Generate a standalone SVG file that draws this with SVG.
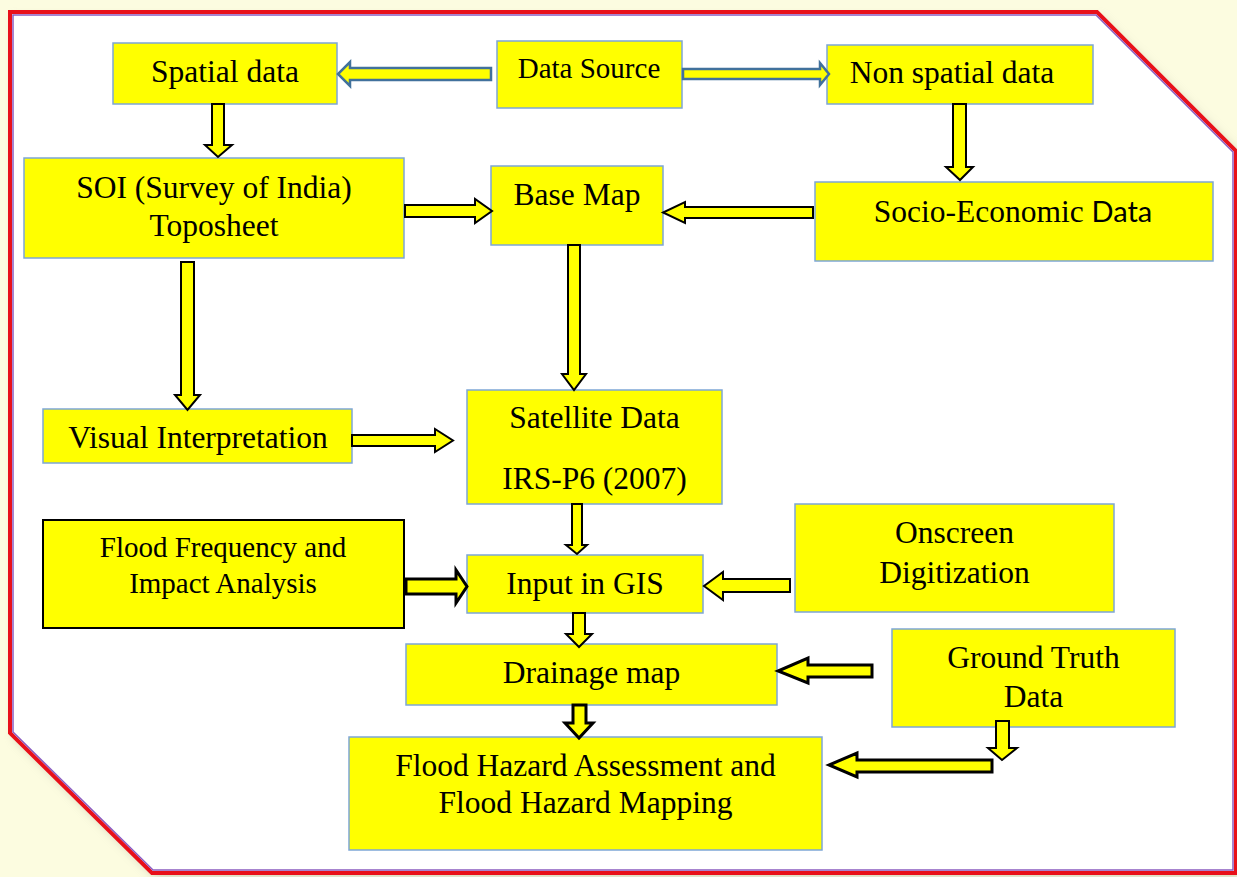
<svg xmlns="http://www.w3.org/2000/svg" width="1237" height="877" viewBox="0 0 1237 877">
<defs>
<style>
.box{fill:#ffff00;stroke:#7ea6d6;stroke-width:1.5}
.boxk{fill:#ffff00;stroke:#000;stroke-width:2}
.t{font-family:"Liberation Serif","Times New Roman",serif;font-size:31.5px;fill:#000;text-anchor:middle}
.ts{font-size:29px}
.ar{fill:#ffff00;stroke:#000;stroke-width:2;stroke-linejoin:miter}
.arb{fill:#ffff00;stroke:#000;stroke-width:3;stroke-linejoin:miter}
.arblue{fill:#ffff00;stroke:#41719c;stroke-width:2.5;stroke-linejoin:miter}
</style>
<radialGradient id="topglow" cx="0.5" cy="0" r="0.5">
<stop offset="0" stop-color="#d8f4f0"/>
<stop offset="1" stop-color="#fcfce0" stop-opacity="0"/>
</radialGradient>
<filter id="sh" x="-5%" y="-5%" width="110%" height="110%">
<feGaussianBlur stdDeviation="5"/>
</filter>
</defs>
<rect x="0" y="0" width="1237" height="877" fill="#fcfce0"/>
<ellipse cx="650" cy="0" rx="300" ry="14" fill="url(#topglow)"/>
<g id="frame">
<polygon points="14,17 1101,17 1241,155 1241,878 156,878 14,738" fill="#b8b8a0" opacity="0.6" filter="url(#sh)"/>
<polygon points="10,12 1097,12 1236,151 1236,873 152,873 10,733" fill="#ffffff" stroke="#e8101a" stroke-width="4"/>
<polygon points="13,15 1096,15 1233,152 1233,870 153,870 13,732" fill="none" stroke="#8a5cc0" stroke-width="1.5"/>
</g>
<g id="n_spatial"><rect class="box" x="113" y="43" width="224" height="61"/><text class="t" x="225" y="82">Spatial data</text></g>
<g id="n_source"><rect class="box" x="497" y="41" width="185" height="67"/><text class="t ts" x="589" y="78">Data Source</text></g>
<g id="n_nonspatial"><rect class="box" x="827" y="45" width="266" height="59"/><text class="t" x="952" y="83">Non spatial data</text></g>
<g id="n_soi"><rect class="box" x="24" y="158" width="380" height="100"/><text class="t" x="214" y="198">SOI (Survey of India)</text><text class="t" x="214" y="236">Toposheet</text></g>
<g id="n_base"><rect class="box" x="491" y="166" width="172" height="79"/><text class="t" x="577" y="205">Base Map</text></g>
<g id="n_socio"><rect class="box" x="815" y="182" width="398" height="79"/><text class="t" x="1013" y="222">Socio-Economic <tspan font-family="Lato, 'Open Sans', sans-serif" font-size="29">Data</tspan></text></g>
<g id="n_visual"><rect class="box" x="43" y="409" width="309" height="54"/><text class="t" x="198" y="448">Visual Interpretation</text></g>
<g id="n_satellite"><rect class="box" x="467" y="390" width="255" height="114"/><text class="t" x="594.5" y="428">Satellite Data</text><text class="t" x="594.5" y="489">IRS-P6 (2007)</text></g>
<g id="n_flood"><rect class="boxk" x="43" y="520" width="361" height="108"/><text class="t ts" x="223" y="557">Flood Frequency and</text><text class="t ts" x="223" y="593">Impact Analysis</text></g>
<g id="n_gis"><rect class="box" x="467" y="555" width="236" height="58"/><text class="t" x="585" y="594">Input in GIS</text></g>
<g id="n_onscreen"><rect class="box" x="795" y="504" width="319" height="108"/><text class="t" x="954.5" y="543">Onscreen</text><text class="t" x="954.5" y="583">Digitization</text></g>
<g id="n_drainage"><rect class="box" x="406" y="644" width="371" height="61"/><text class="t" x="591.5" y="683">Drainage map</text></g>
<g id="n_ground"><rect class="box" x="892" y="629" width="283" height="98"/><text class="t" x="1033.5" y="668">Ground Truth</text><text class="t" x="1033.5" y="707">Data</text></g>
<g id="n_hazard"><rect class="box" x="349" y="737" width="473" height="113"/><text class="t" x="585.5" y="776">Flood Hazard Assessment and</text><text class="t" x="585.5" y="813">Flood Hazard Mapping</text></g>
<g id="connectors">
<path class="arblue" d="M491,68 L350,68 L350,62 L338,74 L350,86 L350,80 L491,80 Z"/>
<path class="arblue" d="M683,69 L820,69 L820,63 L829,74 L820,85 L820,79 L683,79 Z"/>
<path class="ar" d="M212,104 L224,104 L224,145 L232,145 L218,157 L205,145 L212,145 Z"/>
<path class="ar" d="M953,104 L966,104 L966,167 L973,167 L960,180 L946,167 L953,167 Z"/>
<path class="ar" d="M405,205 L475,205 L475,199 L492,211 L475,223 L475,217 L405,217 Z"/>
<path class="ar" d="M813,207 L685,207 L685,202 L663,212.5 L685,223 L685,218 L813,218 Z"/>
<path class="ar" d="M568,245 L580,245 L580,374 L586,374 L574,390 L562,374 L568,374 Z"/>
<path class="ar" d="M181,262 L194,262 L194,395 L200,395 L187.5,410 L175,395 L181,395 Z"/>
<path class="ar" d="M352,435 L435,435 L435,429 L453,440.5 L435,452 L435,446 L352,446 Z"/>
<path class="ar" d="M572,504 L582,504 L582,545 L587,545 L577,554 L566,545 L572,545 Z"/>
<path class="arb" d="M406,579 L456,579 L456,570 L467,586.5 L456,603 L456,594 L406,594 Z"/>
<path class="ar" d="M790,579 L723,579 L723,572 L704,586 L723,600 L723,592 L790,592 Z"/>
<path class="ar" d="M573,613 L585,613 L585,634 L592,634 L579,647 L566,634 L573,634 Z"/>
<path class="arb" d="M573,705 L586,705 L586,723 L593,723 L579,738 L565,723 L573,723 Z"/>
<path class="arb" d="M872,665 L808,665 L808,658 L778,671 L808,683 L808,677 L872,677 Z"/>
<path class="ar" d="M996,721 L1009,721 L1009,748 L1017,748 L1002,760 L988,748 L996,748 Z"/>
<path class="arb" d="M992,760 L857,760 L857,753 L829,765 L857,777 L857,772 L992,772 Z"/>
</g>
</svg>
